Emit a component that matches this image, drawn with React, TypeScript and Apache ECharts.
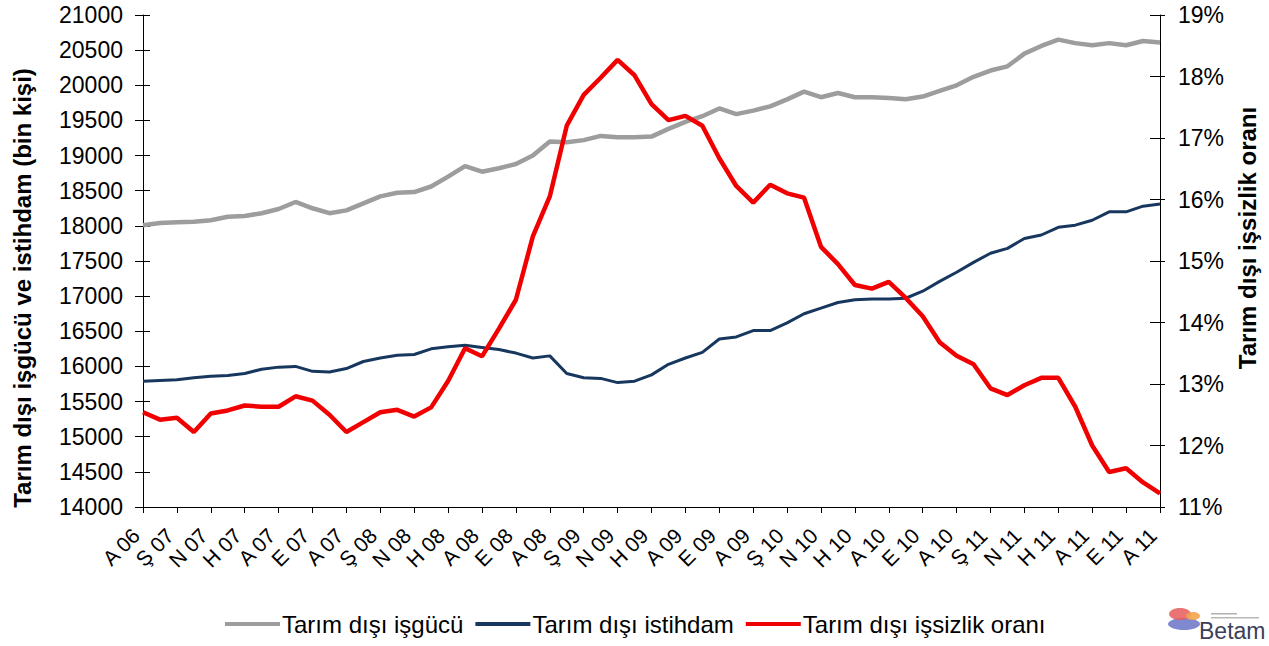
import React, { useEffect, useRef } from "react";
import * as echarts from "echarts";

const categories: string[] = [
  "A 06",
  "O 07", "Ş 07", "M 07", "N 07", "M 07", "H 07", "T 07", "A 07", "E 07", "E 07", "K 07", "A 07",
  "O 08", "Ş 08", "M 08", "N 08", "M 08", "H 08", "T 08", "A 08", "E 08", "E 08", "K 08", "A 08",
  "O 09", "Ş 09", "M 09", "N 09", "M 09", "H 09", "T 09", "A 09", "E 09", "E 09", "K 09", "A 09",
  "O 10", "Ş 10", "M 10", "N 10", "M 10", "H 10", "T 10", "A 10", "E 10", "E 10", "K 10", "A 10",
  "O 11", "Ş 11", "M 11", "N 11", "M 11", "H 11", "T 11", "A 11", "E 11", "E 11", "K 11", "A 11",
];

const laborForce: number[] = [
  18010, 18040, 18050, 18060, 18080, 18130, 18140, 18180, 18240, 18340,
  18250, 18180, 18220, 18320, 18420, 18470, 18480, 18560, 18700, 18850,
  18770, 18820, 18880, 19000, 19200, 19190, 19220, 19280, 19260, 19260,
  19270, 19380, 19480, 19560, 19670, 19590, 19640, 19700, 19800, 19910,
  19830, 19890, 19830, 19830, 19820, 19800, 19840, 19920, 20000, 20120,
  20210, 20270, 20450, 20560, 20650, 20600, 20570, 20600, 20570, 20630,
  20610,
];

const employment: number[] = [
  15790, 15800, 15810, 15840, 15860, 15870, 15900, 15960, 15990, 16000,
  15930, 15920, 15970, 16070, 16120, 16160, 16170, 16250, 16280, 16300,
  16270, 16240, 16190, 16120, 16150, 15900, 15840, 15830, 15770, 15790,
  15880, 16030, 16120, 16200, 16390, 16420, 16510, 16510, 16620, 16750,
  16830, 16910, 16950, 16960, 16960, 16970, 17070, 17210, 17340, 17480,
  17610, 17680, 17820, 17870, 17980, 18010, 18080, 18200, 18200, 18280,
  18310,
];

const unemploymentRate: number[] = [
  12.54, 12.42, 12.45, 12.22, 12.52, 12.57, 12.65, 12.63, 12.63, 12.80,
  12.73, 12.50, 12.22, 12.38, 12.54, 12.58, 12.47, 12.62, 13.05, 13.58,
  13.45, 13.90, 14.37, 15.40, 16.05, 17.20, 17.70, 17.98, 18.27, 18.02,
  17.55, 17.29, 17.36, 17.20, 16.67, 16.22, 15.95, 16.24, 16.10, 16.03,
  15.23, 14.95, 14.61, 14.55, 14.66, 14.40, 14.10, 13.68, 13.46, 13.32,
  12.93, 12.82, 12.98, 13.10, 13.10, 12.63, 12.00, 11.57, 11.63, 11.40,
  11.22,
];

const seriesNames = ["Tarım dışı işgücü", "Tarım dışı istihdam", "Tarım dışı işsizlik oranı"];
const leftAxisTitle = "Tarım dışı işgücü ve istihdam (bin kişi)";
const rightAxisTitle = "Tarım dışı işsizlik oranı";

const FONT = "'Liberation Sans', Arial, sans-serif";
const GRAY = "#9d9d9d";
const NAVY = "#17375e";
const RED = "#f00000";

export default function App() {
  const ref = useRef<HTMLDivElement>(null);

  useEffect(() => {
    document.body.style.margin = "0";
    if (!ref.current) return;
    const chart = echarts.init(ref.current, undefined, { renderer: "svg" });

    const axisLineStyle = { show: true, lineStyle: { color: "#000", width: 1 } };

    chart.setOption({
      animation: false,
      backgroundColor: "#fff",
      grid: { left: 143, right: 109, top: 15, bottom: 139, containLabel: false },
      legend: {
        left: 220,
        top: 607,
        itemWidth: 55,
        itemHeight: 4,
        itemGap: 12,
        textStyle: { fontFamily: FONT, fontSize: 24, color: "#000", padding: [0, 0, 0, -3] },
        data: [
          { name: seriesNames[0], icon: "rect", itemStyle: { color: GRAY } },
          { name: seriesNames[1], icon: "rect", itemStyle: { color: NAVY } },
          { name: seriesNames[2], icon: "rect", itemStyle: { color: RED } },
        ],
      },
      xAxis: {
        type: "category",
        data: categories,
        boundaryGap: false,
        axisLine: axisLineStyle,
        axisTick: { show: true, interval: 1, length: 6, lineStyle: { color: "#000" } },
        axisLabel: {
          interval: 1,
          rotate: 45,
          margin: 18,
          fontFamily: FONT,
          fontSize: 21,
          color: "#000",
          padding: [0, 10, 0, 0],
        },
        splitLine: { show: false },
      },
      yAxis: [
        {
          type: "value",
          position: "left",
          min: 14000,
          max: 21000,
          interval: 500,
          axisLine: axisLineStyle,
          axisTick: { show: true, length: 8, lineStyle: { color: "#000" } },
          axisLabel: {
            fontFamily: FONT,
            fontSize: 23,
            color: "#000",
            margin: 20,
            formatter: (v: number) => String(v),
          },
          splitLine: { show: false },
        },
        {
          type: "value",
          position: "right",
          min: 11,
          max: 19,
          interval: 1,
          axisLine: axisLineStyle,
          axisTick: { show: true, length: 5, lineStyle: { color: "#000" } },
          axisLabel: {
            fontFamily: FONT,
            fontSize: 23,
            color: "#000",
            margin: 18,
            formatter: (v: number) => v + "%",
          },
          splitLine: { show: false },
        },
        {
          type: "value",
          position: "left",
          min: 14000,
          max: 21000,
          interval: 500,
          axisLine: { show: false },
          axisTick: { show: true, inside: true, length: 7, lineStyle: { color: "#000" } },
          axisLabel: { show: false },
          splitLine: { show: false },
        },
        {
          type: "value",
          position: "right",
          min: 11,
          max: 19,
          interval: 1,
          axisLine: { show: false },
          axisTick: { show: true, inside: true, length: 10, lineStyle: { color: "#000" } },
          axisLabel: { show: false },
          splitLine: { show: false },
        },
      ],
      series: [
        {
          name: seriesNames[0],
          type: "line",
          yAxisIndex: 0,
          data: laborForce,
          showSymbol: false,
          symbol: "none",
          lineStyle: { color: GRAY, width: 4.5 },
          itemStyle: { color: GRAY },
          z: 2,
        },
        {
          name: seriesNames[1],
          type: "line",
          yAxisIndex: 0,
          data: employment,
          showSymbol: false,
          symbol: "none",
          lineStyle: { color: NAVY, width: 3 },
          itemStyle: { color: NAVY },
          z: 3,
        },
        {
          name: seriesNames[2],
          type: "line",
          yAxisIndex: 1,
          data: unemploymentRate,
          showSymbol: false,
          symbol: "none",
          lineStyle: { color: RED, width: 4.5 },
          itemStyle: { color: RED },
          z: 4,
        },
      ],
      graphic: [
        {
          type: "text",
          x: 22,
          y: 288,
          rotation: Math.PI / 2,
          style: {
            text: leftAxisTitle,
            fontFamily: FONT,
            fontSize: 24,
            fontWeight: "bold",
            fill: "#000",
            align: "center",
            verticalAlign: "middle",
          },
        },
        {
          type: "text",
          x: 1247,
          y: 238,
          rotation: Math.PI / 2,
          style: {
            text: rightAxisTitle,
            fontFamily: FONT,
            fontSize: 24,
            fontWeight: "bold",
            fill: "#000",
            align: "center",
            verticalAlign: "middle",
          },
        },
        {
          type: "group",
          children: [
            { type: "ellipse", shape: { cx: 1184, cy: 624, rx: 16, ry: 6 }, style: { fill: "#8088d0" } },
            { type: "ellipse", shape: { cx: 1180, cy: 614, rx: 11, ry: 6 }, style: { fill: "#e65a5a", opacity: 0.85 } },
            { type: "ellipse", shape: { cx: 1193, cy: 616, rx: 7, ry: 4 }, style: { fill: "#f2a44a", opacity: 0.9 } },
            { type: "rect", shape: { x: 1211, y: 613, width: 26, height: 1.5 }, style: { fill: "#b0b0b0" } },
            { type: "rect", shape: { x: 1211, y: 617, width: 48, height: 1.5 }, style: { fill: "#b8b8b8" } },
            {
              type: "text",
              x: 1199,
              y: 631,
              style: {
                text: "Betam",
                fontFamily: FONT,
                fontSize: 23,
                fill: "#3b4058",
                verticalAlign: "middle",
              },
            },
          ],
        },
      ],
    });

    return () => chart.dispose();
  }, []);

  return <div ref={ref} style={{ width: 1269, height: 646 }} />;
}
